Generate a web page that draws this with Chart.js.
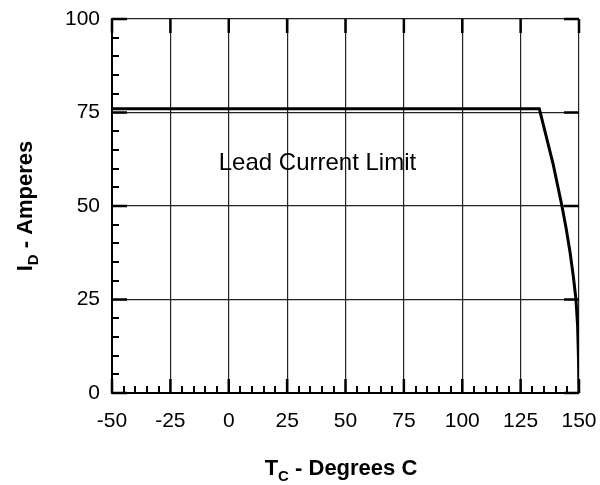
<!DOCTYPE html>
<html>
<head>
<meta charset="utf-8">
<script src="https://cdn.jsdelivr.net/npm/chart.js@4.4.1/dist/chart.umd.min.js"></script>
<style>
  html, body { margin: 0; padding: 0; background: #fff; }
  #wrap { width: 600px; height: 485px; }
</style>
</head>
<body>
<div id="wrap"><canvas id="chart" width="600" height="485"></canvas></div>
<script>
// Drain current derating: case temperature vs max current
const tempC    = [-50, 133, 135, 137, 139, 141, 142.7, 144.5, 146.2, 147.6, 148.7, 149.4, 149.8, 150];
const currentA = [ 76,  76,  71,  66,  61,  55,  50,    44,    37.5,  31,    25,    18,    9,     0];
const xTicks = [-50, -25, 0, 25, 50, 75, 100, 125, 150];
const yTicks = [0, 25, 50, 75, 100];
const noteText = 'Lead Current Limit';

const FONT = "'Liberation Sans', Arial, Helvetica, sans-serif";

// inner major/minor tick marks like the datasheet plot
const innerTicks = {
  id: 'innerTicks',
  afterDatasetsDraw(chart) {
    const { ctx, chartArea: a, scales: { x, y } } = chart;
    ctx.save();
    ctx.strokeStyle = '#000';
    ctx.lineCap = 'butt';
    // minor ticks, bottom and left only
    ctx.lineWidth = 2;
    ctx.beginPath();
    for (let v = -50; v <= 150; v += 5) {
      if (v % 25 === 0) continue;
      const px = Math.round(x.getPixelForValue(v));
      ctx.moveTo(px, a.bottom); ctx.lineTo(px, a.bottom - 7);
    }
    for (let v = 0; v <= 100; v += 5) {
      if (v % 25 === 0) continue;
      const py = Math.round(y.getPixelForValue(v));
      ctx.moveTo(a.left, py); ctx.lineTo(a.left + 7, py);
    }
    ctx.stroke();
    // major ticks on all four sides
    ctx.lineWidth = 2.5;
    ctx.beginPath();
    xTicks.forEach(v => {
      const px = x.getPixelForValue(v);
      ctx.moveTo(px, a.bottom); ctx.lineTo(px, a.bottom - 14);
      ctx.moveTo(px, a.top); ctx.lineTo(px, a.top + 14);
    });
    yTicks.forEach(v => {
      const py = y.getPixelForValue(v);
      ctx.moveTo(a.left, py); ctx.lineTo(a.left + 15, py);
      ctx.moveTo(a.right, py); ctx.lineTo(a.right - 15, py);
    });
    ctx.stroke();
    ctx.restore();
  }
};

// axis titles with subscripts + annotation
function subText(ctx, parts, cx, cy) {
  let w = 0;
  parts.forEach(p => { ctx.font = p.font; w += ctx.measureText(p.t).width; });
  let pos = cx - w / 2;
  parts.forEach(p => {
    ctx.font = p.font;
    ctx.fillText(p.t, pos, cy + (p.dy || 0));
    pos += ctx.measureText(p.t).width;
  });
}

const labelsPlugin = {
  id: 'labelsPlugin',
  afterDraw(chart) {
    const { ctx, chartArea: a, scales: { x, y } } = chart;
    ctx.save();
    ctx.fillStyle = '#000';
    ctx.textBaseline = 'alphabetic';
    ctx.textAlign = 'left';
    const big = 'bold 22px ' + FONT, small = 'bold 15px ' + FONT;
    subText(ctx, [
      { t: 'T', font: big },
      { t: 'C', font: small, dy: 6 },
      { t: ' - Degrees C', font: big }
    ], 341, 475);

    ctx.translate(32, 206);
    ctx.rotate(-Math.PI / 2);
    subText(ctx, [
      { t: 'I', font: big },
      { t: 'D', font: small, dy: 6 },
      { t: ' - Amperes', font: big }
    ], 0, 0);
    ctx.restore();

    ctx.save();
    ctx.fillStyle = '#000';
    ctx.font = '24px ' + FONT;
    ctx.textAlign = 'center';
    ctx.textBaseline = 'middle';
    ctx.fillText(noteText, x.getPixelForValue(38), y.getPixelForValue(61.5));
    ctx.restore();
  }
};

new Chart(document.getElementById('chart'), {
  type: 'line',
  data: {
    datasets: [{
      data: tempC.map((t, i) => ({ x: t, y: currentA[i] })),
      borderColor: '#000',
      borderWidth: 3,
      pointRadius: 0,
      tension: 0,
      fill: false
    }]
  },
  options: {
    responsive: false,
    animation: false,
    layout: { padding: { top: 19, right: 21, left: 0, bottom: 0 } },
    plugins: { legend: { display: false }, tooltip: { enabled: false } },
    scales: {
      x: {
        type: 'linear', min: -50, max: 150,
        afterBuildTicks: s => { s.ticks = xTicks.map(v => ({ value: v })); },
        afterFit: s => { s.height = 92; s.paddingLeft = 0; s.paddingRight = 0; },
        grid: { color: '#222', lineWidth: 1.2, drawTicks: false },
        border: { color: '#000', width: 2 },
        ticks: { color: '#000', padding: 16, maxRotation: 0, font: { family: FONT, size: 21 } }
      },
      y: {
        type: 'linear', min: 0, max: 100,
        afterBuildTicks: s => { s.ticks = yTicks.map(v => ({ value: v })); },
        afterFit: s => { s.width = 112; s.paddingTop = 0; s.paddingBottom = 0; },
        grid: { color: '#222', lineWidth: 1.2, drawTicks: false },
        border: { color: '#000', width: 2 },
        ticks: { color: '#000', padding: 12, font: { family: FONT, size: 21 } }
      }
    }
  },
  plugins: [innerTicks, labelsPlugin]
});
</script>
</body>
</html>
